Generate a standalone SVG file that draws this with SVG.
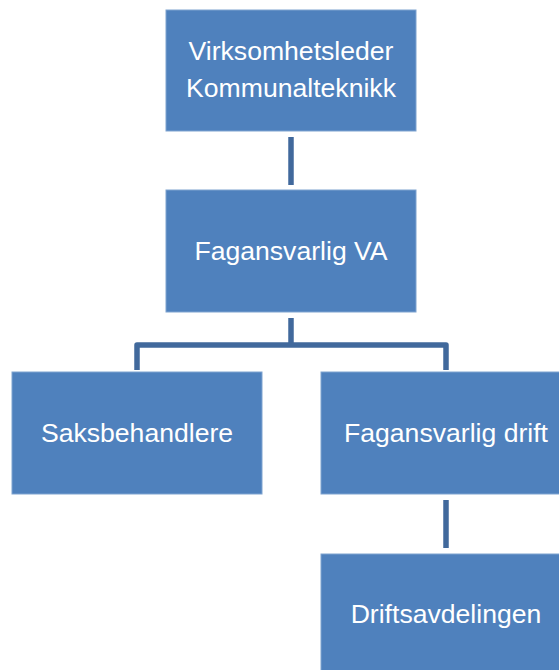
<svg xmlns="http://www.w3.org/2000/svg" width="559" height="670" viewBox="0 0 559 670">
<style>
.box{fill:#4F81BD;stroke:#7FA3D0;stroke-width:1}
.lbl{fill:#FFFFFF;font-family:"Liberation Sans",Arial,sans-serif;font-size:26.6px;text-anchor:middle}
.con{stroke:#41699C;stroke-width:5.5;fill:none;stroke-linecap:butt;stroke-linejoin:round}
</style>
<rect width="559" height="670" fill="#FFFFFF"/>
<g id="connectors">
<line class="con" x1="291" y1="137" x2="291" y2="185"/>
<path class="con" d="M291 318 V345 M137 370 V345 H446 V370"/>
<line class="con" x1="446" y1="500" x2="446" y2="548"/>
</g>
<g id="n1">
<rect class="box" x="166" y="10" width="250" height="121"/>
<text class="lbl" x="291" y="60">Virksomhetsleder</text>
<text class="lbl" x="291" y="97">Kommunalteknikk</text>
</g>
<g id="n2">
<rect class="box" x="166" y="190" width="250" height="122"/>
<text class="lbl" x="291" y="260">Fagansvarlig VA</text>
</g>
<g id="n3">
<rect class="box" x="12" y="372" width="250" height="122"/>
<text class="lbl" x="137" y="442">Saksbehandlere</text>
</g>
<g id="n4">
<rect class="box" x="321" y="372" width="250" height="122"/>
<text class="lbl" x="446" y="442">Fagansvarlig drift</text>
</g>
<g id="n5">
<rect class="box" x="321" y="554" width="250" height="122"/>
<text class="lbl" x="446" y="623">Driftsavdelingen</text>
</g>
</svg>
